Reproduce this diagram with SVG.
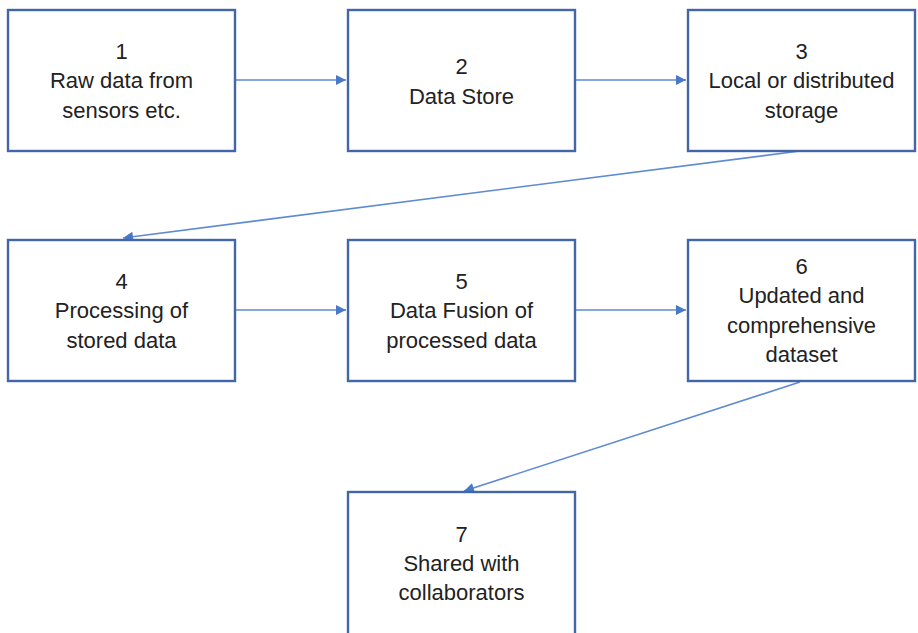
<svg xmlns="http://www.w3.org/2000/svg" width="918" height="633" viewBox="0 0 918 633">
  <style>
    .box { fill: #ffffff; stroke: #4366a6; stroke-width: 2.4; }
    .lbl { font-family: "Liberation Sans", "Open Sans", sans-serif; font-size: 22px; fill: #222222; text-anchor: middle; }
    .edge { fill: none; stroke: #5f8bd2; stroke-width: 1.6; }
  </style>
  <defs>
    <marker id="arrow" viewBox="0 0 10 10" refX="10" refY="5" markerWidth="11" markerHeight="10" markerUnits="userSpaceOnUse" orient="auto">
      <path d="M0,0 L10,5 L0,10 z" fill="#4a78c8"/>
    </marker>
  </defs>
  <rect width="918" height="633" fill="#ffffff"/>

  <g id="connectors">
    <line class="edge" x1="236" y1="80" x2="346" y2="80" marker-end="url(#arrow)"/>
    <line class="edge" x1="576" y1="80" x2="686" y2="80" marker-end="url(#arrow)"/>
    <line class="edge" x1="800" y1="151" x2="123" y2="238" marker-end="url(#arrow)"/>
    <line class="edge" x1="236" y1="310" x2="346" y2="310" marker-end="url(#arrow)"/>
    <line class="edge" x1="576" y1="310" x2="686" y2="310" marker-end="url(#arrow)"/>
    <line class="edge" x1="800" y1="382" x2="464" y2="491" marker-end="url(#arrow)"/>
  </g>

  <g id="node1">
    <rect class="box" x="8" y="10" width="227" height="141"/>
    <text class="lbl" x="121.5" y="59">1</text>
    <text class="lbl" x="121.5" y="88">Raw data from</text>
    <text class="lbl" x="121.5" y="118">sensors etc.</text>
  </g>
  <g id="node2">
    <rect class="box" x="348" y="10" width="227" height="141"/>
    <text class="lbl" x="461.5" y="74">2</text>
    <text class="lbl" x="461.5" y="104">Data Store</text>
  </g>
  <g id="node3">
    <rect class="box" x="688" y="10" width="227" height="141"/>
    <text class="lbl" x="801.5" y="59">3</text>
    <text class="lbl" x="801.5" y="88">Local or distributed</text>
    <text class="lbl" x="801.5" y="118">storage</text>
  </g>
  <g id="node4">
    <rect class="box" x="8" y="240" width="227" height="141"/>
    <text class="lbl" x="121.5" y="289">4</text>
    <text class="lbl" x="121.5" y="318">Processing of</text>
    <text class="lbl" x="121.5" y="348">stored data</text>
  </g>
  <g id="node5">
    <rect class="box" x="348" y="240" width="227" height="141"/>
    <text class="lbl" x="461.5" y="289">5</text>
    <text class="lbl" x="461.5" y="318">Data Fusion of</text>
    <text class="lbl" x="461.5" y="348">processed data</text>
  </g>
  <g id="node6">
    <rect class="box" x="688" y="240" width="227" height="141"/>
    <text class="lbl" x="801.5" y="274">6</text>
    <text class="lbl" x="801.5" y="303">Updated and</text>
    <text class="lbl" x="801.5" y="333">comprehensive</text>
    <text class="lbl" x="801.5" y="362">dataset</text>
  </g>
  <g id="node7">
    <rect class="box" x="348" y="492" width="227" height="160"/>
    <text class="lbl" x="461.5" y="542">7</text>
    <text class="lbl" x="461.5" y="571">Shared with</text>
    <text class="lbl" x="461.5" y="600">collaborators</text>
  </g>
</svg>
